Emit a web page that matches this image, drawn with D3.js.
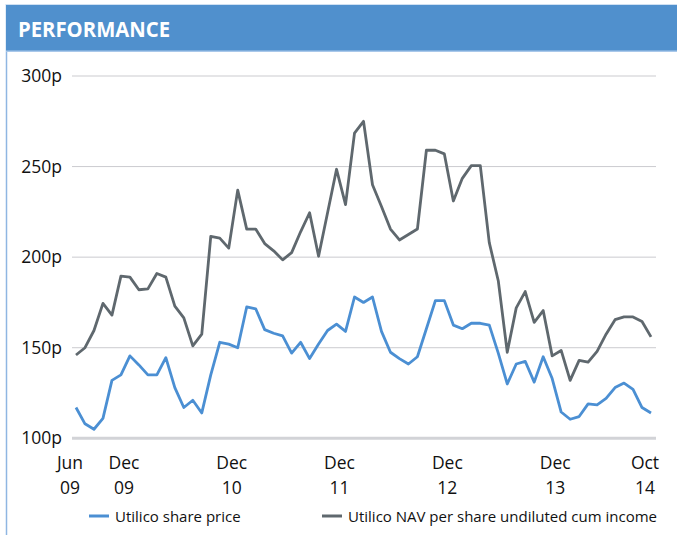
<!DOCTYPE html>
<html>
<head>
<meta charset="utf-8">
<script src="https://cdn.jsdelivr.net/npm/d3@7"></script>
<style>
  body { margin: 0; background: #fff; }
  text { font-family: "Open Sans", "Noto Sans", sans-serif; }
</style>
</head>
<body>
<svg id="chart" width="677" height="535"></svg>
<script>
// monthly, Jun 09 .. Oct 14
var startMonth = new Date(2009, 5, 1);
var sharePrice = [117,108,105,111,132,135,145.5,140.5,135,135,144.5,128,117,121,114,135,153,152,150,172.5,171.5,
    160,158,156.5,147,153,144,152,159.5,163,159,178,175,178,159,147.5,144,141,145,160.5,176,176,
    162.5,160.5,163.5,163.5,162.5,147,130,141,142.5,131,145,133,114.5,110.5,112,119,118.5,122,128,130.5,127,117,114];
var navCum = [146,150,159.5,174.5,168,189.5,189,182,182.5,191,189,173,166.5,151,157.5,211.5,210.5,205,237,215.5,215.5,
    207.5,203.5,198.5,202.5,214,224.5,200.5,224.5,248.5,229,268.5,275,240,228,215.5,209.5,212.5,215.5,259,259,257,
    231,243.5,250.5,250.5,208,187,147.5,172,181,164,170.5,145.5,148.5,132,143,142,148,157.5,165.5,167,167,164.5,156];
var yTicks = [100, 150, 200, 250, 300];
var xTickIdx = [0, 6, 18, 30, 42, 54, 64];
var xTickTop = ["Jun", "Dec", "Dec", "Dec", "Dec", "Dec", "Oct"];
var xTickBottom = ["09", "09", "10", "11", "12", "13", "14"];
var seriesNames = ["Utilico share price", "Utilico NAV per share undiluted cum income"];
var seriesColors = ["#4b8fd3", "#5f686e"];

var svg = d3.select("#chart");

// frame + header
svg.append("line")
    .attr("x1", 6.5).attr("x2", 6.5).attr("y1", 4).attr("y2", 535)
    .attr("stroke", "#8fb6e2").attr("stroke-width", 1.5);
svg.append("rect")
    .attr("x", 6).attr("y", 4).attr("width", 671).attr("height", 1.5)
    .attr("fill", "#cfe0f2");
svg.append("rect")
    .attr("x", 6).attr("y", 5).attr("width", 671).attr("height", 46)
    .attr("fill", "#5090cd");
svg.append("rect")
    .attr("x", 6).attr("y", 50.5).attr("width", 671).attr("height", 1.5)
    .attr("fill", "#a9c8ea");
svg.append("text")
    .attr("x", 18).attr("y", 37)
    .attr("fill", "#fff")
    .attr("font-size", 22)
    .attr("font-weight", 700)
    .attr("textLength", 152)
    .attr("lengthAdjust", "spacingAndGlyphs")
    .text("PERFORMANCE");

var x = d3.scaleLinear()
    .domain([0, sharePrice.length - 1])
    .range([76, 651]);

var y = d3.scaleLinear()
    .domain([100, 300])
    .range([438.3, 76]);

// gridlines + y labels
var grid = svg.append("g");
grid.selectAll("line")
    .data(yTicks)
    .enter().append("line")
    .attr("x1", 72).attr("x2", 656)
    .attr("y1", function(d) { return y(d); })
    .attr("y2", function(d) { return y(d); })
    .attr("stroke", function(d) { return d == 100 ? "#d2d3d7" : "#cbcbcf"; })
    .attr("stroke-width", function(d) { return d == 100 ? 3 : 1; });

grid.selectAll("text")
    .data(yTicks)
    .enter().append("text")
    .attr("x", 62)
    .attr("y", function(d) { return y(d); })
    .attr("dy", "0.35em")
    .attr("text-anchor", "end")
    .attr("font-size", 17.5)
    .attr("fill", "#111")
    .text(function(d) { return d + "p"; });

// x labels
var xl = svg.append("g");
xTickIdx.forEach(function(idx, i) {
    var t = xl.append("text")
        .attr("text-anchor", "middle")
        .attr("font-size", 17.5)
        .attr("fill", "#111");
    t.append("tspan").attr("x", x(idx) - 6).attr("y", 469).text(xTickTop[i]);
    t.append("tspan").attr("x", x(idx) - 6).attr("y", 494).text(xTickBottom[i]);
});

var line = d3.line()
    .x(function(d, i) { return x(i); })
    .y(function(d) { return y(d); });

[sharePrice, navCum].forEach(function(s, k) {
    svg.append("path")
        .datum(s)
        .attr("fill", "none")
        .attr("stroke", seriesColors[k])
        .attr("stroke-width", 2.8)
        .attr("stroke-linejoin", "round")
        .attr("d", line);
});

// legend
var legendX = [89, 322];
seriesNames.forEach(function(n, k) {
    svg.append("line")
        .attr("x1", legendX[k]).attr("x2", legendX[k] + 20)
        .attr("y1", 516).attr("y2", 516)
        .attr("stroke", seriesColors[k])
        .attr("stroke-width", 3);
    svg.append("text")
        .attr("x", legendX[k] + 26)
        .attr("y", 522)
        .attr("font-size", 15)
        .attr("fill", "#111")
        .text(n);
});
</script>
</body>
</html>
